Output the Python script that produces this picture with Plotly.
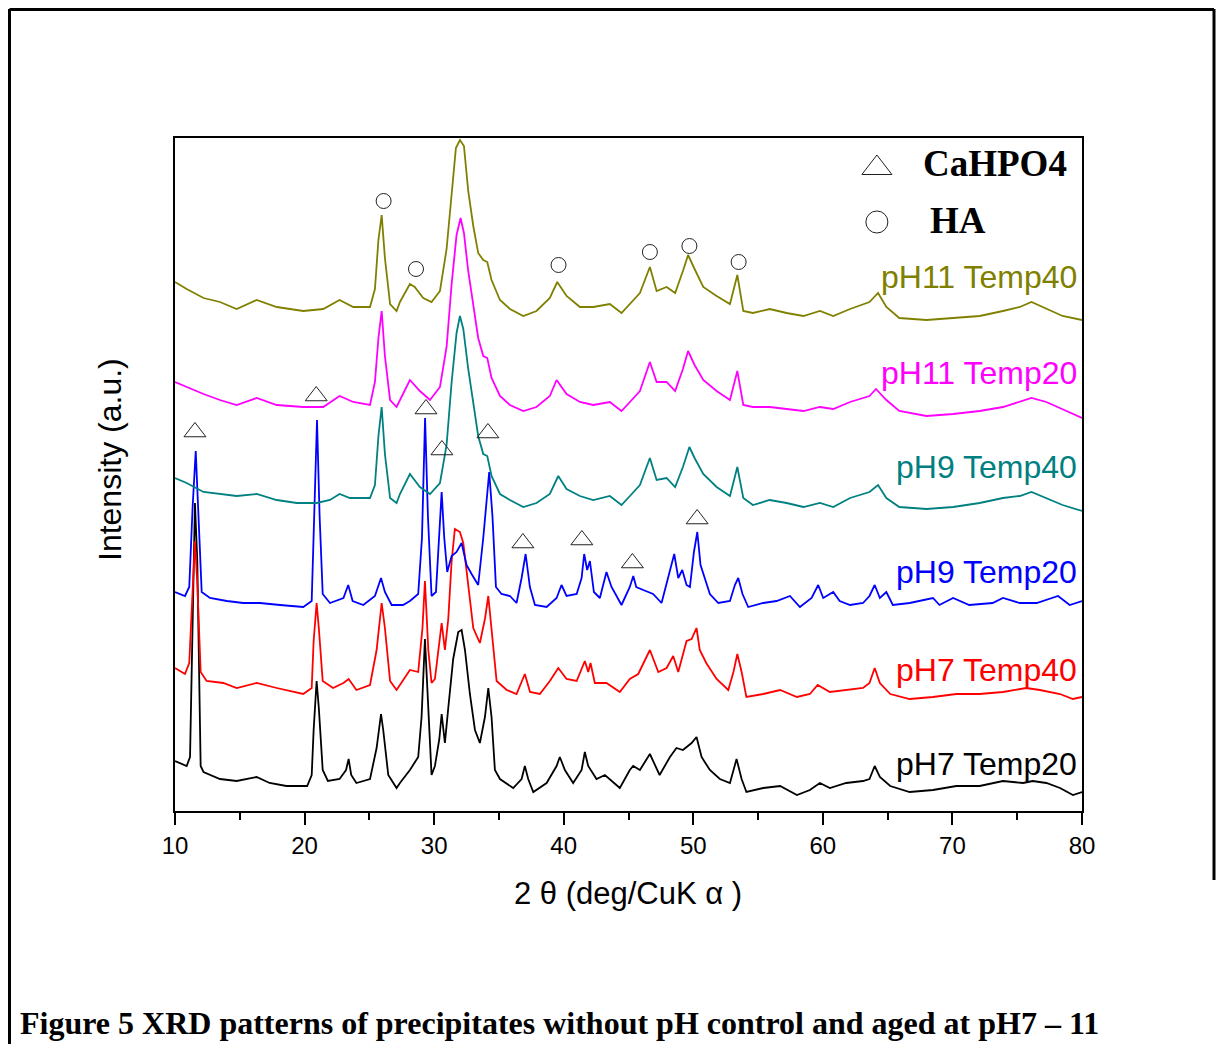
import plotly.graph_objects as go

# ---------------- data (2-theta in degrees, intensity in arbitrary units incl. stacking offset) ----
pH7_T20_x = [10.0, 10.9, 11.16, 11.36, 11.54, 11.72, 11.98, 12.2, 13.47, 14.76, 16.3, 17.3, 18.6, 20.2,
             20.55, 20.7, 20.93, 21.1, 21.4, 21.8, 22.7, 23.2, 23.4, 23.6, 24.0, 25.05, 25.56, 25.9, 26.07,
             26.46, 27.1, 27.36, 28.13, 28.77, 29.03, 29.29, 29.55, 29.8, 30.06, 30.4, 30.58, 30.83, 31.09,
             31.47, 31.86, 32.12, 32.38, 32.76, 33.15, 33.53, 33.92, 34.18, 34.43, 34.69, 35.08, 36.1, 36.75,
             37.0, 37.26, 37.65, 38.68, 39.45, 39.7, 40.09, 40.73, 41.38, 41.63, 41.89, 42.53, 43.18, 44.33,
             45.1, 45.36, 45.88, 46.65, 47.4, 48.2, 48.7, 49.2, 49.87, 50.25, 50.64, 51.28, 52.05, 52.83,
             53.34, 53.73, 54.1, 55.4, 56.7, 58.0, 59.0, 59.77, 60.54, 61.8, 63.1, 63.6, 64.0, 64.4, 65.2,
             66.7, 68.5, 70.3, 72.1, 73.9, 75.45, 76.2, 77.25, 78.3, 79.3, 80.0]
pH7_T20_y = [50, 45, 54, 206, 308, 250, 45, 39, 32, 30, 34, 28, 25, 25,
             36, 81, 130, 103, 41, 30, 32, 41, 52, 36, 28, 32, 63, 97, 81,
             36, 23, 28, 41, 54, 94, 172, 94, 36, 45, 72, 97, 68, 103,
             152, 179, 181, 161, 117, 81, 68, 94, 123, 94, 41, 32, 23, 32,
             45, 32, 19, 28, 45, 54, 41, 28, 41, 59, 45, 32, 36, 23,
             41, 45, 41, 57, 36, 54, 63, 61, 68, 74, 54, 41, 32, 28,
             52, 32, 19, 23, 25, 16, 21, 28, 23, 28, 30, 32, 45, 34, 25,
             19, 21, 25, 25, 30, 28, 30, 28, 23, 16, 19]

pH7_T40_x = [10.0, 10.77, 11.1, 11.36, 11.54, 11.72, 11.98, 12.44, 13.73, 14.76, 16.3, 17.85, 19.9, 20.55,
             20.7, 20.93, 21.1, 21.4, 22.2, 23.0, 23.4, 24.0, 25.05, 25.56, 25.95, 26.2, 26.6, 27.1, 27.36,
             28.13, 28.77, 29.1, 29.29, 29.55, 29.8, 30.06, 30.58, 30.83, 31.09, 31.35, 31.6, 31.99, 32.25,
             32.63, 33.02, 33.53, 33.92, 34.18, 34.43, 34.82, 35.6, 36.36, 37.0, 37.4, 38.16, 38.93, 39.58,
             40.22, 41.0, 41.63, 41.89, 42.07, 42.4, 43.3, 44.33, 45.1, 45.75, 46.65, 47.3, 47.94, 48.45,
             48.84, 49.48, 49.87, 50.25, 50.5, 51.0, 51.8, 52.7, 53.1, 53.4, 53.73, 54.1, 55.4, 56.7, 58.0,
             59.0, 59.6, 60.54, 61.8, 63.1, 63.6, 64.0, 64.4, 65.2, 66.7, 68.5, 70.3, 72.1, 73.9, 75.7,
             76.75, 78.3, 79.3, 80.0]
pH7_T40_y = [143, 137, 148, 228, 270, 228, 139, 130, 128, 123, 128, 123, 117, 123,
             170, 208, 183, 130, 123, 128, 132, 121, 126, 161, 208, 183, 130, 121, 126,
             141, 139, 183, 230, 161, 128, 132, 188, 161, 192, 250, 282, 279, 268,
             224, 183, 168, 192, 215, 183, 130, 121, 117, 137, 119, 117, 130, 143,
             132, 130, 150, 139, 148, 128, 128, 119, 132, 137, 161, 139, 143, 155,
             139, 170, 172, 183, 161, 148, 132, 121, 139, 157, 139, 114, 117, 121, 114,
             117, 126, 119, 121, 123, 128, 143, 128, 117, 112, 114, 117, 117, 119, 123,
             121, 117, 112, 114]

pH9_T20_x = [10.0, 10.77, 11.1, 11.36, 11.6, 11.8, 12.06, 12.7, 14.0, 15.27, 16.56, 18.1, 19.9, 20.55,
             20.75, 20.96, 21.16, 21.4, 21.96, 23.0, 23.37, 23.71, 24.53, 25.43, 25.9, 26.2, 26.72, 27.6,
             28.13, 28.77, 29.06, 29.3, 29.52, 29.8, 30.14, 30.4, 30.58, 30.78, 31.01, 31.35, 31.73, 32.12,
             32.5, 32.89, 33.4, 33.79, 34.25, 34.5, 34.77, 35.2, 35.85, 36.36, 36.75, 37.06, 37.39, 37.78,
             38.68, 39.45, 39.83, 40.22, 41.0, 41.38, 41.58, 41.81, 42.02, 42.33, 42.79, 43.3, 43.69, 44.46,
             45.1, 45.37, 45.6, 46.14, 46.9, 47.55, 48.07, 48.53, 48.84, 49.15, 49.48, 49.74, 50.05, 50.31,
             50.56, 50.9, 51.28, 51.93, 52.83, 53.21, 53.47, 53.8, 54.24, 55.4, 56.43, 57.46, 58.23, 59.13,
             59.64, 60.03, 60.8, 61.3, 62.1, 63.1, 63.6, 64.0, 64.4, 64.9, 65.4, 66.7, 68.5, 69.0, 70.05,
             71.3, 73.1, 73.9, 75.2, 76.5, 78.15, 79.05, 80.0]
pH9_T20_y = [219, 215, 224, 304, 360, 304, 219, 213, 210, 208, 208, 206, 204, 210,
             295, 391, 295, 217, 208, 213, 226, 210, 206, 215, 233, 219, 206, 206,
             210, 217, 273, 393, 295, 215, 219, 273, 319, 273, 239, 255, 259, 268,
             246, 237, 226, 273, 339, 295, 224, 217, 215, 208, 233, 257, 224, 206,
             204, 213, 226, 215, 217, 233, 257, 241, 250, 219, 213, 239, 224, 206,
             224, 235, 224, 221, 217, 208, 233, 257, 233, 241, 226, 224, 259, 279,
             246, 233, 217, 208, 210, 226, 233, 217, 204, 208, 210, 215, 204, 213,
             226, 213, 219, 210, 206, 208, 215, 226, 213, 219, 206, 208, 213, 206, 213,
             206, 208, 213, 208, 208, 215, 206, 210]

pH9_T40_x = [10.0, 10.9, 12.2, 13.47, 14.76, 16.3, 17.85, 19.4, 20.93, 21.96, 22.7, 23.5, 25.05, 25.43,
             25.7, 25.95, 26.2, 26.6, 27.1, 27.36, 28.13, 28.9, 29.68, 30.45, 30.96, 31.35, 31.73, 31.99,
             32.25, 32.63, 33.02, 33.4, 33.79, 34.1, 34.43, 35.08, 35.85, 36.88, 37.9, 38.93, 39.58, 40.22,
             41.25, 42.28, 43.56, 44.46, 45.11, 45.88, 46.65, 47.17, 47.94, 48.6, 49.2, 49.7, 50.1, 50.77,
             51.8, 52.83, 53.4, 53.86, 54.6, 55.9, 57.2, 58.5, 59.77, 60.8, 62.1, 63.6, 64.26, 64.9, 65.9,
             68.0, 70.05, 72.1, 73.9, 75.2, 76.1, 77.25, 78.5, 80.0]
pH9_T40_y = [333, 328, 319, 317, 315, 317, 311, 308, 308, 311, 317, 313, 313, 326,
             375, 404, 357, 313, 308, 317, 337, 324, 317, 328, 366, 429, 478, 495,
             482, 442, 406, 375, 357, 355, 335, 317, 311, 304, 308, 317, 335, 322,
             315, 311, 315, 306, 315, 326, 353, 331, 333, 324, 344, 364, 353, 337,
             324, 315, 344, 313, 306, 311, 308, 304, 308, 304, 313, 319, 326, 313, 304,
             302, 304, 308, 313, 315, 319, 313, 306, 300]

pH11_T20_x = [10.0, 10.9, 12.2, 13.47, 14.76, 16.3, 17.85, 19.9, 21.44, 22.7, 23.76, 25.05, 25.43, 25.7,
              25.95, 26.2, 26.6, 27.1, 27.36, 28.13, 28.9, 29.68, 30.45, 30.96, 31.35, 31.73, 32.04, 32.3,
              32.63, 33.02, 33.4, 33.79, 34.1, 34.43, 35.08, 35.85, 36.88, 37.9, 38.93, 39.45, 40.22, 41.25,
              42.28, 43.56, 44.46, 45.11, 45.88, 46.65, 47.17, 47.94, 48.6, 49.2, 49.6, 50.1, 50.77, 51.8,
              52.83, 53.4, 53.86, 54.6, 55.9, 57.2, 58.5, 59.77, 60.8, 62.1, 63.6, 64.1, 64.9, 65.9, 68.0,
              70.05, 72.1, 73.9, 75.2, 76.1, 77.25, 78.5, 80.0]
pH11_T20_y = [429, 424, 417, 411, 406, 413, 406, 404, 404, 415, 409, 406, 429, 473,
              500, 455, 411, 404, 411, 431, 420, 411, 424, 464, 527, 576, 593, 578,
              540, 504, 473, 455, 453, 433, 415, 406, 400, 404, 415, 431, 417, 409,
              406, 409, 400, 409, 420, 449, 429, 429, 420, 442, 460, 446, 431, 420,
              411, 440, 406, 404, 404, 402, 400, 404, 402, 409, 415, 422, 411, 400, 395,
              397, 400, 404, 409, 413, 409, 402, 393]

pH11_T40_x = [10.0, 10.9, 12.2, 13.47, 14.76, 16.3, 17.85, 19.9, 21.44, 22.7, 23.76, 25.05, 25.43, 25.7,
              25.95, 26.2, 26.6, 27.1, 27.36, 28.13, 28.5, 29.16, 29.8, 30.45, 30.96, 31.35, 31.68, 31.99,
              32.3, 32.63, 33.02, 33.4, 33.79, 34.1, 34.43, 35.08, 35.85, 36.88, 37.9, 38.93, 39.5, 40.22,
              41.25, 42.28, 43.56, 44.46, 45.11, 45.88, 46.65, 47.17, 47.94, 48.6, 49.2, 49.6, 50.1, 50.77,
              51.8, 52.83, 53.4, 53.86, 54.6, 55.9, 57.2, 58.5, 59.77, 60.8, 62.1, 63.6, 64.26, 64.9, 65.9,
              68.0, 70.05, 72.1, 73.9, 75.2, 76.1, 77.25, 78.5, 80.0]
pH11_T40_y = [529, 522, 513, 509, 502, 511, 504, 500, 502, 511, 504, 504, 522, 571,
              596, 553, 507, 500, 509, 527, 524, 513, 509, 520, 562, 616, 663, 671,
              665, 620, 585, 558, 551, 549, 531, 511, 502, 495, 500, 513, 529, 515,
              504, 504, 507, 498, 507, 518, 544, 520, 524, 518, 540, 556, 542, 524,
              515, 507, 536, 500, 498, 502, 498, 495, 500, 495, 502, 509, 518, 504, 493,
              491, 493, 495, 500, 504, 509, 502, 495, 491]

series_names = ["pH7 Temp20", "pH7 Temp40", "pH9 Temp20", "pH9 Temp40", "pH11 Temp20", "pH11 Temp40"]
series_x = [pH7_T20_x, pH7_T40_x, pH9_T20_x, pH9_T40_x, pH11_T20_x, pH11_T40_x]
series_y = [pH7_T20_y, pH7_T40_y, pH9_T20_y, pH9_T40_y, pH11_T20_y, pH11_T40_y]
series_colors = ["#000000", "#FF0000", "#0000FF", "#008080", "#FF00FF", "#808000"]
label_y = [47, 141, 239, 344, 438, 534]

# phase markers (peak assignments)
ha_x = [26.1, 28.6, 32.15, 39.6, 46.65, 49.7, 53.5]
ha_y = [610, 542, 683, 546, 559, 565, 549]
cahpo4_x = [11.54, 20.9, 29.37, 30.6, 34.15, 36.85, 41.4, 45.3, 50.3]
cahpo4_y = [379, 415, 402, 361, 378, 268, 271, 248, 292]

x_ticks = [10, 20, 30, 40, 50, 60, 70, 80]

# ---------------- layout geometry ----------------
BODY = 8
FIG_W, FIG_H = 1208, 1036
PL, PR, PT, PB = 175, 1082, 138, 811   # plot area in page pixels


def px(x):
    return (x - PL) / (PR - PL)


def py(y):
    return (PB - y) / (PB - PT)


SANS = "Liberation Sans, Arial, sans-serif"
SERIF = "Liberation Serif, Times New Roman, serif"

fig = go.Figure()
for name, xs, ys, col in zip(series_names, series_x, series_y, series_colors):
    fig.add_trace(go.Scatter(x=xs, y=ys, mode="lines", name=name,
                             line=dict(color=col, width=1.8), showlegend=False))

fig.add_trace(go.Scatter(x=cahpo4_x, y=cahpo4_y, mode="markers", showlegend=False, cliponaxis=False,
                         marker=dict(symbol="triangle-up-open", size=19, color="#222222",
                                     line=dict(width=1, color="#222222"))))
fig.add_trace(go.Scatter(x=ha_x, y=ha_y, mode="markers", showlegend=False, cliponaxis=False,
                         marker=dict(symbol="circle-open", size=15, color="#222222",
                                     line=dict(width=1, color="#222222"))))
# legend symbols
fig.add_trace(go.Scatter(x=[64.17], y=[643], mode="markers", showlegend=False, cliponaxis=False,
                         marker=dict(symbol="triangle-up-open", size=26, color="#222222",
                                     line=dict(width=1, color="#222222"))))
fig.add_trace(go.Scatter(x=[64.17], y=[589], mode="markers", showlegend=False, cliponaxis=False,
                         marker=dict(symbol="circle-open", size=22, color="#222222",
                                     line=dict(width=1, color="#222222"))))

annotations = []
for name, col, ly in zip(series_names, series_colors, label_y):
    annotations.append(dict(x=79.8, y=ly, xref="x", yref="y", text=name, showarrow=False,
                            xanchor="right", yanchor="middle",
                            font=dict(family=SANS, size=32, color=col)))
annotations.append(dict(x=67.6, y=648, xref="x", yref="y", text="<b>CaHPO4</b>", showarrow=False,
                        xanchor="left", yanchor="middle", font=dict(family=SERIF, size=37, color="black")))
annotations.append(dict(x=68.1, y=591, xref="x", yref="y", text="<b>HA</b>", showarrow=False,
                        xanchor="left", yanchor="middle", font=dict(family=SERIF, size=37, color="black")))
annotations.append(dict(x=px(628), y=py(893), xref="paper", yref="paper",
                        text="2 θ (deg/CuK α )", showarrow=False, xanchor="center", yanchor="middle",
                        font=dict(family=SANS, size=31, color="black")))
annotations.append(dict(x=px(110), y=py(460), xref="paper", yref="paper", textangle=-90,
                        text="Intensity (a.u.)", showarrow=False, xanchor="center", yanchor="middle",
                        font=dict(family=SANS, size=32, color="black")))
annotations.append(dict(x=px(18), y=py(1023), xref="paper", yref="paper",
                        text="<b>Figure 5 XRD patterns of precipitates without pH control and aged at pH7 – 11</b>",
                        showarrow=False, xanchor="left", yanchor="middle",
                        font=dict(family=SERIF, size=32, color="black")))

shapes = [
    dict(type="line", xref="paper", yref="paper", x0=px(9.5), x1=px(9.5), y0=py(9), y1=py(1052),
         line=dict(color="black", width=3)),
    dict(type="line", xref="paper", yref="paper", x0=px(9.5), x1=px(1214), y0=py(9.5), y1=py(9.5),
         line=dict(color="black", width=3)),
    dict(type="line", xref="paper", yref="paper", x0=px(1214), x1=px(1214), y0=py(9), y1=py(880),
         line=dict(color="black", width=3)),
]

fig.update_layout(
    width=FIG_W, height=FIG_H,
    margin=dict(l=PL - BODY, r=FIG_W - (PR - BODY), t=PT - BODY, b=FIG_H - (PB - BODY), pad=0),
    paper_bgcolor="white", plot_bgcolor="white",
    showlegend=False,
    annotations=annotations,
    shapes=shapes,
    xaxis=dict(range=[10, 80], tickvals=x_ticks, ticktext=[str(t) for t in x_ticks],
               ticks="outside", ticklen=12, tickwidth=2, tickcolor="black",
               minor=dict(ticks="outside", ticklen=7, tickwidth=2, tickcolor="black", dtick=5, showgrid=False),
               showline=True, linecolor="black", linewidth=2, mirror=True,
               showgrid=False, zeroline=False,
               tickfont=dict(family=SANS, size=24, color="black")),
    yaxis=dict(range=[0, 673], showticklabels=False, ticks="",
               showline=True, linecolor="black", linewidth=2, mirror=True,
               showgrid=False, zeroline=False),
)

fig.write_html("out.html")
